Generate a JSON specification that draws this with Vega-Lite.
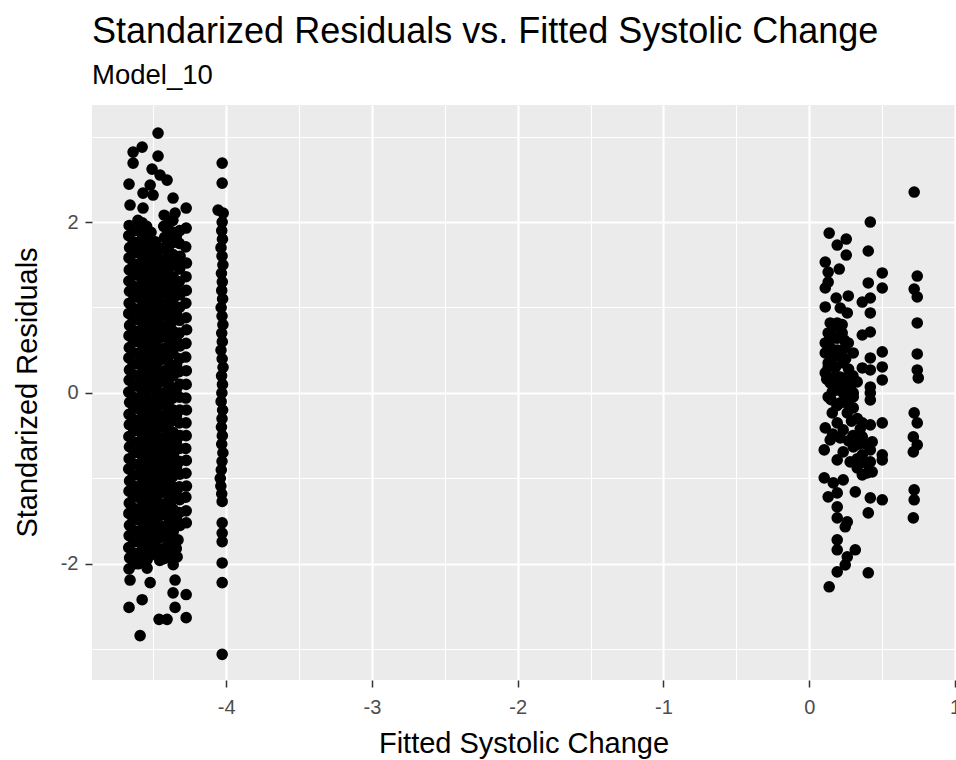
{
"$schema": "https://vega.github.io/schema/vega-lite/v6.json",
"width": 863,
"height": 575,
"autosize": "none",
"padding": {"left": 92, "top": 105, "right": 1, "bottom": 80},
"background": "white",
"config": {"view": {"fill": "#EBEBEB", "stroke": null}},
"title": {"text": "Standarized Residuals vs. Fitted Systolic Change", "subtitle": "Model_10", "anchor": "start", "frame": "group", "font": "Liberation Sans", "fontSize": 36, "fontWeight": "normal", "color": "#000000", "subtitleFont": "Liberation Sans", "subtitleFontSize": 27.5, "subtitleColor": "#000000", "subtitlePadding": 11, "offset": 15},
"data": {"values": [
{"fitted":-4.467,"resid":3.041},{"fitted":-4.576,"resid":2.877},{"fitted":-4.638,"resid":2.819},{"fitted":-4.638,"resid":2.690},{"fitted":-4.467,"resid":2.772},{"fitted":-4.508,"resid":2.620},{"fitted":-4.453,"resid":2.550},{"fitted":-4.405,"resid":2.491},{"fitted":-4.666,"resid":2.444},{"fitted":-4.521,"resid":2.433},{"fitted":-4.570,"resid":2.339},{"fitted":-4.501,"resid":2.316},{"fitted":-4.364,"resid":2.281},{"fitted":-4.659,"resid":2.199},{"fitted":-4.570,"resid":2.164},{"fitted":-4.274,"resid":2.164},{"fitted":-4.350,"resid":2.105},
{"fitted":-4.665,"resid":1.96},{"fitted":-4.668,"resid":1.84},{"fitted":-4.662,"resid":1.70},{"fitted":-4.666,"resid":1.58},{"fitted":-4.664,"resid":1.44},{"fitted":-4.667,"resid":1.31},{"fitted":-4.663,"resid":1.19},{"fitted":-4.665,"resid":1.05},{"fitted":-4.668,"resid":0.93},{"fitted":-4.662,"resid":0.79},{"fitted":-4.666,"resid":0.67},{"fitted":-4.664,"resid":0.53},{"fitted":-4.667,"resid":0.41},{"fitted":-4.663,"resid":0.27},{"fitted":-4.665,"resid":0.15},{"fitted":-4.668,"resid":0.01},{"fitted":-4.662,"resid":-0.11},{"fitted":-4.666,"resid":-0.25},{"fitted":-4.664,"resid":-0.37},{"fitted":-4.667,"resid":-0.51},{"fitted":-4.663,"resid":-0.63},{"fitted":-4.665,"resid":-0.77},{"fitted":-4.668,"resid":-0.89},{"fitted":-4.662,"resid":-1.03},{"fitted":-4.666,"resid":-1.15},{"fitted":-4.664,"resid":-1.29},{"fitted":-4.667,"resid":-1.41},{"fitted":-4.663,"resid":-1.55},{"fitted":-4.665,"resid":-1.67},{"fitted":-4.668,"resid":-1.81},{"fitted":-4.662,"resid":-1.93},{"fitted":-4.666,"resid":-2.06},
{"fitted":-4.635,"resid":1.90},{"fitted":-4.637,"resid":1.77},{"fitted":-4.633,"resid":1.64},{"fitted":-4.636,"resid":1.51},{"fitted":-4.634,"resid":1.38},{"fitted":-4.638,"resid":1.25},{"fitted":-4.632,"resid":1.12},{"fitted":-4.635,"resid":0.99},{"fitted":-4.637,"resid":0.86},{"fitted":-4.633,"resid":0.73},{"fitted":-4.636,"resid":0.60},{"fitted":-4.634,"resid":0.47},{"fitted":-4.638,"resid":0.34},{"fitted":-4.632,"resid":0.21},{"fitted":-4.635,"resid":0.08},{"fitted":-4.637,"resid":-0.05},{"fitted":-4.633,"resid":-0.18},{"fitted":-4.636,"resid":-0.31},{"fitted":-4.634,"resid":-0.44},{"fitted":-4.638,"resid":-0.57},{"fitted":-4.632,"resid":-0.70},{"fitted":-4.635,"resid":-0.83},{"fitted":-4.637,"resid":-0.96},{"fitted":-4.633,"resid":-1.09},{"fitted":-4.636,"resid":-1.22},{"fitted":-4.634,"resid":-1.35},{"fitted":-4.638,"resid":-1.48},{"fitted":-4.632,"resid":-1.61},{"fitted":-4.635,"resid":-1.74},{"fitted":-4.637,"resid":-1.87},{"fitted":-4.633,"resid":-2.00},
{"fitted":-4.605,"resid":2.02},{"fitted":-4.602,"resid":1.90},{"fitted":-4.607,"resid":1.76},{"fitted":-4.604,"resid":1.64},{"fitted":-4.608,"resid":1.50},{"fitted":-4.603,"resid":1.38},{"fitted":-4.606,"resid":1.24},{"fitted":-4.602,"resid":1.12},{"fitted":-4.605,"resid":0.98},{"fitted":-4.607,"resid":0.86},{"fitted":-4.603,"resid":0.72},{"fitted":-4.606,"resid":0.60},{"fitted":-4.604,"resid":0.46},{"fitted":-4.608,"resid":0.34},{"fitted":-4.602,"resid":0.20},{"fitted":-4.605,"resid":0.08},{"fitted":-4.607,"resid":-0.06},{"fitted":-4.603,"resid":-0.18},{"fitted":-4.606,"resid":-0.32},{"fitted":-4.604,"resid":-0.44},{"fitted":-4.608,"resid":-0.58},{"fitted":-4.602,"resid":-0.70},{"fitted":-4.605,"resid":-0.84},{"fitted":-4.607,"resid":-0.96},{"fitted":-4.603,"resid":-1.10},{"fitted":-4.606,"resid":-1.22},{"fitted":-4.604,"resid":-1.36},{"fitted":-4.608,"resid":-1.48},{"fitted":-4.602,"resid":-1.62},{"fitted":-4.605,"resid":-1.74},{"fitted":-4.607,"resid":-1.88},{"fitted":-4.603,"resid":-2.00},
{"fitted":-4.575,"resid":1.99},{"fitted":-4.577,"resid":1.86},{"fitted":-4.573,"resid":1.73},{"fitted":-4.576,"resid":1.60},{"fitted":-4.574,"resid":1.47},{"fitted":-4.578,"resid":1.34},{"fitted":-4.572,"resid":1.21},{"fitted":-4.575,"resid":1.08},{"fitted":-4.577,"resid":0.95},{"fitted":-4.573,"resid":0.82},{"fitted":-4.576,"resid":0.69},{"fitted":-4.574,"resid":0.56},{"fitted":-4.578,"resid":0.43},{"fitted":-4.572,"resid":0.30},{"fitted":-4.575,"resid":0.17},{"fitted":-4.577,"resid":0.04},{"fitted":-4.573,"resid":-0.09},{"fitted":-4.576,"resid":-0.22},{"fitted":-4.574,"resid":-0.35},{"fitted":-4.578,"resid":-0.48},{"fitted":-4.572,"resid":-0.61},{"fitted":-4.575,"resid":-0.74},{"fitted":-4.577,"resid":-0.87},{"fitted":-4.573,"resid":-1.00},{"fitted":-4.576,"resid":-1.13},{"fitted":-4.574,"resid":-1.26},{"fitted":-4.578,"resid":-1.39},{"fitted":-4.572,"resid":-1.52},{"fitted":-4.575,"resid":-1.65},{"fitted":-4.577,"resid":-1.78},{"fitted":-4.573,"resid":-1.91},
{"fitted":-4.545,"resid":1.95},{"fitted":-4.548,"resid":1.83},{"fitted":-4.542,"resid":1.69},{"fitted":-4.546,"resid":1.57},{"fitted":-4.544,"resid":1.43},{"fitted":-4.547,"resid":1.31},{"fitted":-4.543,"resid":1.17},{"fitted":-4.545,"resid":1.05},{"fitted":-4.548,"resid":0.91},{"fitted":-4.542,"resid":0.79},{"fitted":-4.546,"resid":0.65},{"fitted":-4.544,"resid":0.53},{"fitted":-4.547,"resid":0.39},{"fitted":-4.543,"resid":0.27},{"fitted":-4.545,"resid":0.13},{"fitted":-4.548,"resid":0.01},{"fitted":-4.542,"resid":-0.13},{"fitted":-4.546,"resid":-0.25},{"fitted":-4.544,"resid":-0.39},{"fitted":-4.547,"resid":-0.51},{"fitted":-4.543,"resid":-0.65},{"fitted":-4.545,"resid":-0.77},{"fitted":-4.548,"resid":-0.91},{"fitted":-4.542,"resid":-1.03},{"fitted":-4.546,"resid":-1.17},{"fitted":-4.544,"resid":-1.29},{"fitted":-4.547,"resid":-1.43},{"fitted":-4.543,"resid":-1.55},{"fitted":-4.545,"resid":-1.69},{"fitted":-4.548,"resid":-1.81},{"fitted":-4.542,"resid":-1.95},
{"fitted":-4.515,"resid":1.88},{"fitted":-4.517,"resid":1.74},{"fitted":-4.513,"resid":1.62},{"fitted":-4.516,"resid":1.48},{"fitted":-4.514,"resid":1.36},{"fitted":-4.518,"resid":1.22},{"fitted":-4.512,"resid":1.10},{"fitted":-4.515,"resid":0.96},{"fitted":-4.517,"resid":0.84},{"fitted":-4.513,"resid":0.70},{"fitted":-4.516,"resid":0.58},{"fitted":-4.514,"resid":0.44},{"fitted":-4.518,"resid":0.32},{"fitted":-4.512,"resid":0.18},{"fitted":-4.515,"resid":0.06},{"fitted":-4.517,"resid":-0.08},{"fitted":-4.513,"resid":-0.20},{"fitted":-4.516,"resid":-0.34},{"fitted":-4.514,"resid":-0.46},{"fitted":-4.518,"resid":-0.60},{"fitted":-4.512,"resid":-0.72},{"fitted":-4.515,"resid":-0.86},{"fitted":-4.517,"resid":-0.98},{"fitted":-4.513,"resid":-1.12},{"fitted":-4.516,"resid":-1.24},{"fitted":-4.514,"resid":-1.38},{"fitted":-4.518,"resid":-1.50},{"fitted":-4.512,"resid":-1.64},{"fitted":-4.515,"resid":-1.76},{"fitted":-4.517,"resid":-1.90},
{"fitted":-4.485,"resid":1.77},{"fitted":-4.482,"resid":1.63},{"fitted":-4.487,"resid":1.51},{"fitted":-4.484,"resid":1.37},{"fitted":-4.488,"resid":1.25},{"fitted":-4.483,"resid":1.11},{"fitted":-4.486,"resid":0.99},{"fitted":-4.482,"resid":0.85},{"fitted":-4.485,"resid":0.73},{"fitted":-4.487,"resid":0.59},{"fitted":-4.483,"resid":0.47},{"fitted":-4.486,"resid":0.33},{"fitted":-4.484,"resid":0.21},{"fitted":-4.488,"resid":0.07},{"fitted":-4.482,"resid":-0.05},{"fitted":-4.485,"resid":-0.19},{"fitted":-4.487,"resid":-0.31},{"fitted":-4.483,"resid":-0.45},{"fitted":-4.486,"resid":-0.57},{"fitted":-4.484,"resid":-0.71},{"fitted":-4.488,"resid":-0.83},{"fitted":-4.482,"resid":-0.97},{"fitted":-4.485,"resid":-1.09},{"fitted":-4.487,"resid":-1.23},{"fitted":-4.483,"resid":-1.35},{"fitted":-4.486,"resid":-1.49},{"fitted":-4.484,"resid":-1.61},{"fitted":-4.488,"resid":-1.75},{"fitted":-4.482,"resid":-1.87},
{"fitted":-4.455,"resid":1.68},{"fitted":-4.457,"resid":1.55},{"fitted":-4.453,"resid":1.42},{"fitted":-4.456,"resid":1.29},{"fitted":-4.454,"resid":1.16},{"fitted":-4.458,"resid":1.03},{"fitted":-4.452,"resid":0.90},{"fitted":-4.455,"resid":0.77},{"fitted":-4.457,"resid":0.64},{"fitted":-4.453,"resid":0.51},{"fitted":-4.456,"resid":0.38},{"fitted":-4.454,"resid":0.25},{"fitted":-4.458,"resid":0.12},{"fitted":-4.452,"resid":-0.01},{"fitted":-4.455,"resid":-0.14},{"fitted":-4.457,"resid":-0.27},{"fitted":-4.453,"resid":-0.40},{"fitted":-4.456,"resid":-0.53},{"fitted":-4.454,"resid":-0.66},{"fitted":-4.458,"resid":-0.79},{"fitted":-4.452,"resid":-0.92},{"fitted":-4.455,"resid":-1.05},{"fitted":-4.457,"resid":-1.18},{"fitted":-4.453,"resid":-1.31},{"fitted":-4.456,"resid":-1.44},{"fitted":-4.454,"resid":-1.57},{"fitted":-4.458,"resid":-1.70},{"fitted":-4.452,"resid":-1.83},{"fitted":-4.455,"resid":-1.96},
{"fitted":-4.425,"resid":2.08},{"fitted":-4.428,"resid":1.95},{"fitted":-4.422,"resid":1.82},{"fitted":-4.426,"resid":1.70},{"fitted":-4.424,"resid":1.56},{"fitted":-4.427,"resid":1.44},{"fitted":-4.423,"resid":1.30},{"fitted":-4.425,"resid":1.18},{"fitted":-4.428,"resid":1.04},{"fitted":-4.422,"resid":0.92},{"fitted":-4.426,"resid":0.78},{"fitted":-4.424,"resid":0.66},{"fitted":-4.427,"resid":0.52},{"fitted":-4.423,"resid":0.40},{"fitted":-4.425,"resid":0.26},{"fitted":-4.428,"resid":0.14},{"fitted":-4.422,"resid":0.00},{"fitted":-4.426,"resid":-0.12},{"fitted":-4.424,"resid":-0.26},{"fitted":-4.427,"resid":-0.38},{"fitted":-4.423,"resid":-0.52},{"fitted":-4.425,"resid":-0.64},{"fitted":-4.428,"resid":-0.78},{"fitted":-4.422,"resid":-0.90},{"fitted":-4.426,"resid":-1.04},{"fitted":-4.424,"resid":-1.16},{"fitted":-4.427,"resid":-1.30},{"fitted":-4.423,"resid":-1.42},{"fitted":-4.425,"resid":-1.56},{"fitted":-4.428,"resid":-1.68},{"fitted":-4.422,"resid":-1.82},{"fitted":-4.426,"resid":-1.94},
{"fitted":-4.395,"resid":1.98},{"fitted":-4.397,"resid":1.86},{"fitted":-4.393,"resid":1.72},{"fitted":-4.396,"resid":1.60},{"fitted":-4.394,"resid":1.46},{"fitted":-4.398,"resid":1.34},{"fitted":-4.392,"resid":1.20},{"fitted":-4.395,"resid":1.08},{"fitted":-4.397,"resid":0.94},{"fitted":-4.393,"resid":0.82},{"fitted":-4.396,"resid":0.68},{"fitted":-4.394,"resid":0.56},{"fitted":-4.398,"resid":0.42},{"fitted":-4.392,"resid":0.30},{"fitted":-4.395,"resid":0.16},{"fitted":-4.397,"resid":0.04},{"fitted":-4.393,"resid":-0.10},{"fitted":-4.396,"resid":-0.22},{"fitted":-4.394,"resid":-0.36},{"fitted":-4.398,"resid":-0.48},{"fitted":-4.392,"resid":-0.62},{"fitted":-4.395,"resid":-0.74},{"fitted":-4.397,"resid":-0.88},{"fitted":-4.393,"resid":-1.00},{"fitted":-4.396,"resid":-1.14},{"fitted":-4.394,"resid":-1.26},{"fitted":-4.398,"resid":-1.40},{"fitted":-4.392,"resid":-1.52},{"fitted":-4.395,"resid":-1.66},{"fitted":-4.397,"resid":-1.78},{"fitted":-4.393,"resid":-1.92},
{"fitted":-4.365,"resid":2.02},{"fitted":-4.362,"resid":1.88},{"fitted":-4.367,"resid":1.76},{"fitted":-4.364,"resid":1.62},{"fitted":-4.368,"resid":1.50},{"fitted":-4.363,"resid":1.36},{"fitted":-4.366,"resid":1.24},{"fitted":-4.362,"resid":1.10},{"fitted":-4.365,"resid":0.98},{"fitted":-4.367,"resid":0.84},{"fitted":-4.363,"resid":0.72},{"fitted":-4.366,"resid":0.58},{"fitted":-4.364,"resid":0.46},{"fitted":-4.368,"resid":0.32},{"fitted":-4.362,"resid":0.20},{"fitted":-4.365,"resid":0.06},{"fitted":-4.367,"resid":-0.06},{"fitted":-4.363,"resid":-0.20},{"fitted":-4.366,"resid":-0.32},{"fitted":-4.364,"resid":-0.46},{"fitted":-4.368,"resid":-0.58},{"fitted":-4.362,"resid":-0.72},{"fitted":-4.365,"resid":-0.84},{"fitted":-4.367,"resid":-0.98},{"fitted":-4.363,"resid":-1.10},{"fitted":-4.366,"resid":-1.24},{"fitted":-4.364,"resid":-1.36},{"fitted":-4.368,"resid":-1.50},{"fitted":-4.362,"resid":-1.62},{"fitted":-4.365,"resid":-1.76},{"fitted":-4.367,"resid":-1.88},{"fitted":-4.363,"resid":-2.01},
{"fitted":-4.318,"resid":1.90},{"fitted":-4.321,"resid":1.75},{"fitted":-4.316,"resid":1.60},{"fitted":-4.319,"resid":1.45},{"fitted":-4.322,"resid":1.30},{"fitted":-4.317,"resid":1.15},{"fitted":-4.320,"resid":1.00},{"fitted":-4.318,"resid":0.85},{"fitted":-4.321,"resid":0.70},{"fitted":-4.316,"resid":0.55},{"fitted":-4.319,"resid":0.40},{"fitted":-4.322,"resid":0.25},{"fitted":-4.317,"resid":0.10},{"fitted":-4.320,"resid":-0.05},{"fitted":-4.318,"resid":-0.20},{"fitted":-4.321,"resid":-0.35},{"fitted":-4.316,"resid":-0.50},{"fitted":-4.319,"resid":-0.65},{"fitted":-4.322,"resid":-0.80},{"fitted":-4.317,"resid":-0.95},{"fitted":-4.320,"resid":-1.10},{"fitted":-4.318,"resid":-1.25},{"fitted":-4.321,"resid":-1.40},{"fitted":-4.316,"resid":-1.55},{"fitted":-4.330,"resid":-1.72},{"fitted":-4.336,"resid":-1.92},
{"fitted":-4.342,"resid":1.83},{"fitted":-4.340,"resid":1.52},{"fitted":-4.343,"resid":1.22},{"fitted":-4.341,"resid":0.92},{"fitted":-4.342,"resid":0.62},{"fitted":-4.340,"resid":0.33},{"fitted":-4.343,"resid":0.03},{"fitted":-4.341,"resid":-0.27},{"fitted":-4.342,"resid":-0.57},{"fitted":-4.340,"resid":-0.87},{"fitted":-4.343,"resid":-1.17},{"fitted":-4.341,"resid":-1.47},{"fitted":-4.342,"resid":-1.82},
{"fitted":-4.274,"resid":1.93},{"fitted":-4.277,"resid":1.71},{"fitted":-4.272,"resid":1.52},{"fitted":-4.275,"resid":1.36},{"fitted":-4.273,"resid":1.20},{"fitted":-4.276,"resid":1.05},{"fitted":-4.274,"resid":0.88},{"fitted":-4.271,"resid":0.74},{"fitted":-4.275,"resid":0.58},{"fitted":-4.277,"resid":0.42},{"fitted":-4.273,"resid":0.26},{"fitted":-4.274,"resid":0.10},{"fitted":-4.276,"resid":-0.06},{"fitted":-4.272,"resid":-0.20},{"fitted":-4.275,"resid":-0.35},{"fitted":-4.274,"resid":-0.50},{"fitted":-4.277,"resid":-0.65},{"fitted":-4.273,"resid":-0.79},{"fitted":-4.275,"resid":-0.94},{"fitted":-4.272,"resid":-1.09},{"fitted":-4.276,"resid":-1.22},{"fitted":-4.274,"resid":-1.38},{"fitted":-4.273,"resid":-1.52},
{"fitted":-4.659,"resid":-2.19},{"fitted":-4.666,"resid":-2.51},{"fitted":-4.576,"resid":-2.42},{"fitted":-4.590,"resid":-2.84},{"fitted":-4.521,"resid":-2.22},{"fitted":-4.542,"resid":-2.05},{"fitted":-4.460,"resid":-2.65},{"fitted":-4.405,"resid":-2.65},{"fitted":-4.350,"resid":-2.19},{"fitted":-4.364,"resid":-2.34},{"fitted":-4.350,"resid":-2.51},{"fitted":-4.274,"resid":-2.36},{"fitted":-4.274,"resid":-2.63},
{"fitted":-4.027,"resid":2.690},{"fitted":-4.027,"resid":2.456},{"fitted":-4.055,"resid":2.14},{"fitted":-4.020,"resid":2.105},{"fitted":-4.027,"resid":2.00},{"fitted":-4.030,"resid":1.90},{"fitted":-4.025,"resid":1.80},{"fitted":-4.035,"resid":1.70},{"fitted":-4.028,"resid":1.60},{"fitted":-4.022,"resid":1.50},{"fitted":-4.032,"resid":1.40},{"fitted":-4.026,"resid":1.30},{"fitted":-4.030,"resid":1.20},{"fitted":-4.024,"resid":1.10},{"fitted":-4.034,"resid":1.00},{"fitted":-4.028,"resid":0.90},{"fitted":-4.022,"resid":0.80},{"fitted":-4.030,"resid":0.70},{"fitted":-4.026,"resid":0.60},{"fitted":-4.035,"resid":0.50},{"fitted":-4.027,"resid":0.40},{"fitted":-4.021,"resid":0.30},{"fitted":-4.031,"resid":0.20},{"fitted":-4.025,"resid":0.10},{"fitted":-4.029,"resid":0.00},{"fitted":-4.034,"resid":-0.10},{"fitted":-4.024,"resid":-0.20},{"fitted":-4.028,"resid":-0.30},{"fitted":-4.032,"resid":-0.40},{"fitted":-4.026,"resid":-0.50},{"fitted":-4.030,"resid":-0.60},{"fitted":-4.022,"resid":-0.70},{"fitted":-4.028,"resid":-0.80},{"fitted":-4.033,"resid":-0.90},{"fitted":-4.040,"resid":-1.00},{"fitted":-4.036,"resid":-1.09},{"fitted":-4.030,"resid":-1.18},{"fitted":-4.027,"resid":-1.27},{"fitted":-4.027,"resid":-1.52},{"fitted":-4.027,"resid":-1.64},{"fitted":-4.027,"resid":-1.74},{"fitted":-4.027,"resid":-1.99},{"fitted":-4.027,"resid":-2.22},{"fitted":-4.027,"resid":-3.06},
{"fitted":0.720,"resid":2.351},{"fitted":0.419,"resid":2.000},{"fitted":0.137,"resid":1.871},{"fitted":0.192,"resid":1.731},{"fitted":0.254,"resid":1.801},{"fitted":0.254,"resid":1.614},{"fitted":0.405,"resid":1.661},{"fitted":0.110,"resid":1.532},{"fitted":0.130,"resid":1.415},{"fitted":0.206,"resid":1.450},{"fitted":0.501,"resid":1.404},{"fitted":0.741,"resid":1.368},{"fitted":0.110,"resid":1.228},{"fitted":0.130,"resid":1.298},{"fitted":0.405,"resid":1.287},{"fitted":0.501,"resid":1.228},{"fitted":0.720,"resid":1.216},{"fitted":0.741,"resid":1.123},{"fitted":0.185,"resid":1.111},{"fitted":0.268,"resid":1.135},{"fitted":0.364,"resid":1.064},{"fitted":0.419,"resid":1.111},{"fitted":0.110,"resid":1.006},{"fitted":0.213,"resid":0.994},{"fitted":0.419,"resid":0.936},{"fitted":0.261,"resid":0.936},{"fitted":0.741,"resid":0.819},{"fitted":0.192,"resid":0.819},{"fitted":0.130,"resid":0.702},{"fitted":0.226,"resid":0.702},{"fitted":0.364,"resid":0.678},{"fitted":0.419,"resid":0.713},{"fitted":0.268,"resid":0.585},{"fitted":0.110,"resid":0.585},{"fitted":0.501,"resid":0.480},{"fitted":0.741,"resid":0.456},{"fitted":0.110,"resid":0.468},{"fitted":0.192,"resid":0.503},{"fitted":0.302,"resid":0.468},{"fitted":0.419,"resid":0.409},{"fitted":0.130,"resid":0.351},{"fitted":0.233,"resid":0.351},{"fitted":0.501,"resid":0.304},{"fitted":0.741,"resid":0.269},{"fitted":0.364,"resid":0.292},{"fitted":0.419,"resid":0.269},{"fitted":0.110,"resid":0.234},{"fitted":0.213,"resid":0.187},{"fitted":0.748,"resid":0.175},{"fitted":0.501,"resid":0.152},{"fitted":0.144,"resid":0.117},{"fitted":0.268,"resid":0.094},{"fitted":0.419,"resid":0.070},{"fitted":0.329,"resid":0.129},{"fitted":0.158,"resid":0.012},{"fitted":0.233,"resid":0.000},{"fitted":0.302,"resid":0.000},{"fitted":0.419,"resid":0.000},
{"fitted":0.192,"resid":0.035},{"fitted":0.281,"resid":0.070},{"fitted":0.302,"resid":-0.047},{"fitted":0.130,"resid":-0.047},{"fitted":0.213,"resid":-0.117},{"fitted":0.302,"resid":-0.175},{"fitted":0.419,"resid":-0.082},{"fitted":0.158,"resid":-0.234},{"fitted":0.261,"resid":-0.234},{"fitted":0.720,"resid":-0.234},{"fitted":0.741,"resid":-0.351},{"fitted":0.714,"resid":-0.515},{"fitted":0.741,"resid":-0.608},{"fitted":0.714,"resid":-0.690},{"fitted":0.501,"resid":-0.351},{"fitted":0.364,"resid":-0.351},{"fitted":0.419,"resid":-0.374},{"fitted":0.110,"resid":-0.409},{"fitted":0.192,"resid":-0.351},{"fitted":0.233,"resid":-0.433},{"fitted":0.144,"resid":-0.550},{"fitted":0.213,"resid":-0.526},{"fitted":0.364,"resid":-0.515},{"fitted":0.432,"resid":-0.573},{"fitted":0.103,"resid":-0.667},{"fitted":0.233,"resid":-0.690},{"fitted":0.302,"resid":-0.632},{"fitted":0.364,"resid":-0.725},{"fitted":0.419,"resid":-0.667},{"fitted":0.501,"resid":-0.725},{"fitted":0.192,"resid":-0.784},{"fitted":0.281,"resid":-0.807},{"fitted":0.419,"resid":-0.807},{"fitted":0.501,"resid":-0.784},{"fitted":0.329,"resid":-0.877},{"fitted":0.398,"resid":-0.936},{"fitted":0.364,"resid":-0.959},{"fitted":0.432,"resid":-0.924},{"fitted":0.103,"resid":-0.994},{"fitted":0.165,"resid":-1.053},{"fitted":0.233,"resid":-1.018},{"fitted":0.316,"resid":-1.158},{"fitted":0.130,"resid":-1.216},{"fitted":0.192,"resid":-1.170},{"fitted":0.419,"resid":-1.228},{"fitted":0.501,"resid":-1.251},{"fitted":0.720,"resid":-1.135},{"fitted":0.720,"resid":-1.251},{"fitted":0.714,"resid":-1.462},{"fitted":0.192,"resid":-1.333},{"fitted":0.405,"resid":-1.404},{"fitted":0.192,"resid":-1.462},{"fitted":0.261,"resid":-1.509},{"fitted":0.247,"resid":-1.567},{"fitted":0.192,"resid":-1.719},{"fitted":0.316,"resid":-1.836},{"fitted":0.192,"resid":-1.836},{"fitted":0.261,"resid":-1.918},{"fitted":0.247,"resid":-2.012},{"fitted":0.192,"resid":-2.094},{"fitted":0.405,"resid":-2.105},{"fitted":0.137,"resid":-2.269},
{"fitted":0.144,"resid":0.819},{"fitted":0.165,"resid":0.760},{"fitted":0.226,"resid":0.800},{"fitted":0.130,"resid":0.600},{"fitted":0.165,"resid":0.640},{"fitted":0.192,"resid":0.640},{"fitted":0.240,"resid":0.620},{"fitted":0.150,"resid":0.520},{"fitted":0.240,"resid":0.520},{"fitted":0.165,"resid":0.420},{"fitted":0.200,"resid":0.430},{"fitted":0.250,"resid":0.400},{"fitted":0.130,"resid":0.300},{"fitted":0.180,"resid":0.300},{"fitted":0.270,"resid":0.280},{"fitted":0.300,"resid":0.200},{"fitted":0.165,"resid":0.180},{"fitted":0.120,"resid":0.160},{"fitted":0.250,"resid":0.170},{"fitted":0.190,"resid":0.100},{"fitted":0.230,"resid":0.060},{"fitted":0.150,"resid":-0.080},{"fitted":0.250,"resid":-0.050},{"fitted":0.190,"resid":-0.150},{"fitted":0.260,"resid":-0.120},{"fitted":0.330,"resid":-0.300},{"fitted":0.290,"resid":-0.330},{"fitted":0.350,"resid":-0.420},{"fitted":0.300,"resid":-0.500},{"fitted":0.340,"resid":-0.600},{"fitted":0.270,"resid":-0.560},{"fitted":0.160,"resid":-0.480},{"fitted":0.330,"resid":-0.770},{"fitted":0.390,"resid":-0.600},{"fitted":0.390,"resid":-0.820}
]},
"mark": {"type": "circle", "size": 135, "color": "#000000", "opacity": 1},
"encoding": {
"x": {"field": "fitted", "type": "quantitative",
 "scale": {"domain": [-4.92, 1.0], "nice": false, "zero": false},
 "axis": {"values": [-4.5, -4, -3.5, -3, -2.5, -2, -1.5, -1, -0.5, 0, 0.5, 1],
  "grid": true, "gridColor": "#FFFFFF",
  "gridWidth": {"condition": {"test": "datum.value % 1 === 0", "value": 2.2}, "value": 1.1},
  "domain": false, "ticks": true, "tickSize": 7, "tickColor": "#333333", "tickWidth": 1.5,
  "tickOpacity": {"condition": {"test": "datum.value % 1 === 0", "value": 1}, "value": 0},
  "labelExpr": "datum.value % 1 === 0 ? '' + datum.value : ''",
  "labelOverlap": false, "labelFlush": false,
  "labelFont": "Liberation Sans", "labelFontSize": 20, "labelColor": "#4D4D4D", "labelPadding": 10,
  "title": "Fitted Systolic Change", "titleFont": "Liberation Sans", "titleFontSize": 29, "titleFontWeight": "normal", "titleColor": "#000000",
  "titleBaseline": "alphabetic", "titleY": 72}},
"y": {"field": "resid", "type": "quantitative",
 "scale": {"domain": [-3.36, 3.37], "nice": false, "zero": false},
 "axis": {"values": [-3, -2, -1, 0, 1, 2, 3],
  "grid": true, "gridColor": "#FFFFFF",
  "gridWidth": {"condition": {"test": "datum.value % 2 === 0", "value": 2.2}, "value": 1.1},
  "domain": false, "ticks": true, "tickSize": 7, "tickColor": "#333333", "tickWidth": 1.5,
  "tickOpacity": {"condition": {"test": "datum.value % 2 === 0", "value": 1}, "value": 0},
  "labelExpr": "datum.value % 2 === 0 ? '' + datum.value : ''",
  "labelOverlap": false, "labelFlush": false,
  "labelFont": "Liberation Sans", "labelFontSize": 20, "labelColor": "#4D4D4D", "labelPadding": 7,
  "title": "Standarized Residuals", "titleFont": "Liberation Sans", "titleFontSize": 29, "titleFontWeight": "normal", "titleColor": "#000000",
  "titleBaseline": "alphabetic", "titleX": -56, "titleY": 287}}
}
}
